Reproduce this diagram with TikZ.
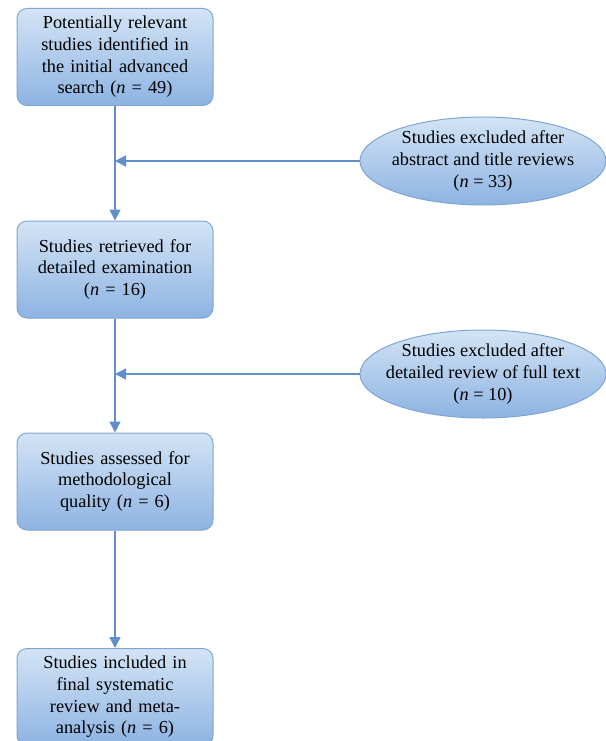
\documentclass[tikz,border=0pt]{standalone}
\usepackage{fontspec}
\setmainfont{Liberation Serif}
\usetikzlibrary{shapes.geometric,arrows.meta}
\definecolor{boxtop}{HTML}{D3E4F5}
\definecolor{boxbot}{HTML}{8DB3E2}
\definecolor{boxline}{HTML}{7FA6D3}
\definecolor{arrowc}{HTML}{5F8EC8}
\tikzset{
  x=1pt,y=-1pt,
  flowbox/.style={draw=boxline,line width=1pt,rounded corners=10pt,top color=boxtop,bottom color=boxbot,
    minimum width=196pt,minimum height=97pt,align=center,text width=190pt,inner sep=0pt,
    font=\fontsize{18.3}{21.7}\selectfont},
  exclell/.style={draw=boxline,line width=1pt,ellipse,top color=boxtop,bottom color=boxbot,
    minimum width=246pt,minimum height=88pt,align=center,inner xsep=-40pt,inner ysep=-15pt,
    font=\fontsize{18.3}{21.7}\selectfont},
  conn/.style={draw=arrowc,line width=1.5pt,-{Triangle[width=11pt,length=11pt]}},
}
\begin{document}
\begin{tikzpicture}
\useasboundingbox (0,0) rectangle (605,741);
\node[flowbox] (b1) at (115,57) {Potentially relevant\\studies identified in\\the initial advanced\\search (\textit{n} = 49)};
\node[flowbox] (b2) at (115,269.5) {Studies retrieved for\\detailed examination\\(\textit{n} = 16)};
\node[flowbox] (b3) at (115,481.5) {Studies assessed for\\methodological\\quality (\textit{n} = 6)};
\node[flowbox] (b4) at (115,697) {Studies included in\\final systematic\\review and meta-\\analysis (\textit{n} = 6)};
\node[exclell] (e1) at (483,161) {Studies excluded after\\abstract and title reviews\\(\textit{n} = 33)};
\node[exclell] (e2) at (483,374) {Studies excluded after\\detailed review of full text\\(\textit{n} = 10)};
\coordinate (j1) at (b1.south |- e1.west);
\coordinate (j2) at (b2.south |- e2.west);
\draw[conn] (b1) -- (b2);
\draw[conn] (b2) -- (b3);
\draw[conn] (b3) -- (b4);
\draw[conn] (e1.west) -- (j1);
\draw[conn] (e2.west) -- (j2);
\end{tikzpicture}
\end{document}
